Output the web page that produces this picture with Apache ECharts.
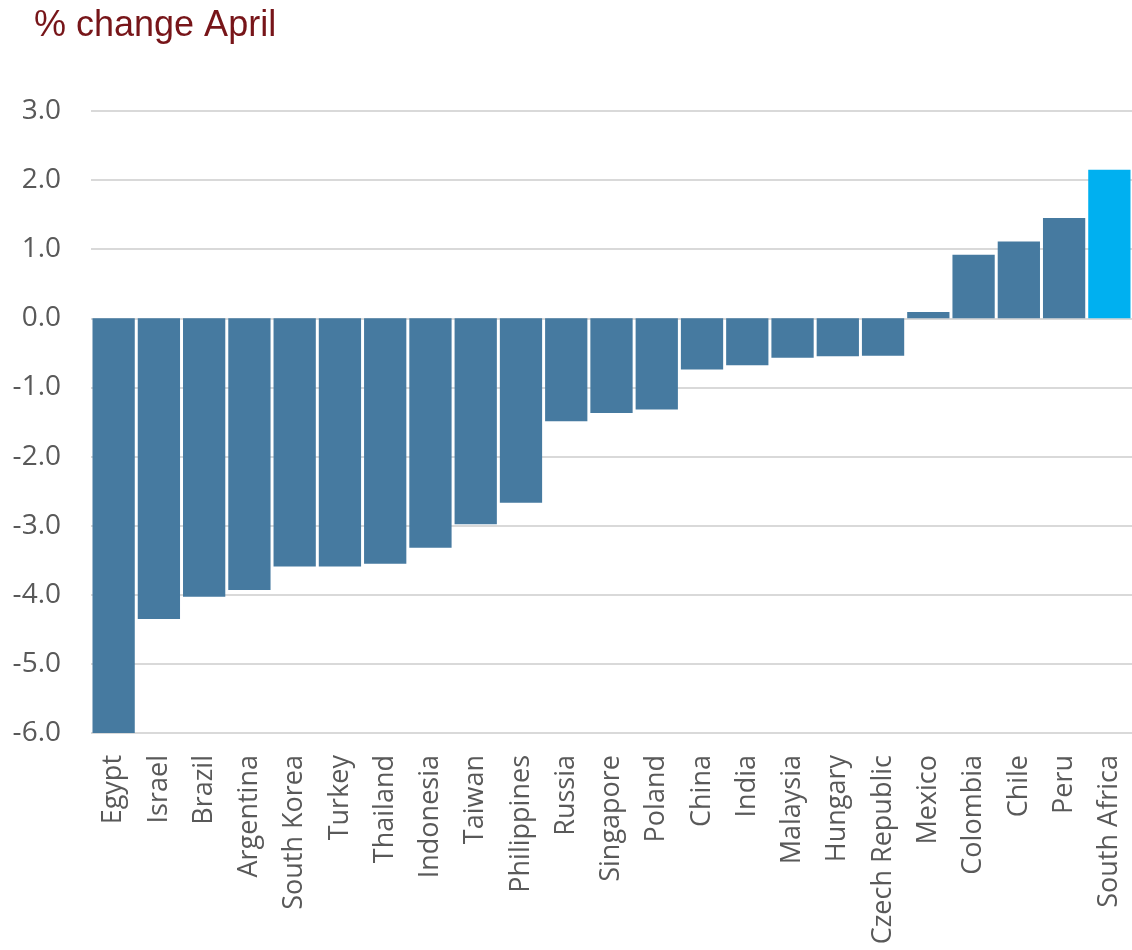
<!DOCTYPE html>
<html>
<head>
<meta charset="utf-8">
<title>% change April</title>
<script src="https://cdn.jsdelivr.net/npm/echarts@6/dist/echarts.min.js"></script>
<style>
  html, body { margin: 0; padding: 0; background: #ffffff; }
  #chart { width: 1132px; height: 950px; }
</style>
</head>
<body>
<div id="chart"></div>
<script>
// Countries, sorted from largest fall to largest rise
const countries = [
  'Egypt', 'Israel', 'Brazil', 'Argentina', 'South Korea', 'Turkey', 'Thailand',
  'Indonesia', 'Taiwan', 'Philippines', 'Russia', 'Singapore', 'Poland', 'China',
  'India', 'Malaysia', 'Hungary', 'Czech Republic', 'Mexico', 'Colombia', 'Chile',
  'Peru', 'South Africa'
];

// % change in April
const changes = [
  -6.03, -4.35, -4.03, -3.93, -3.59, -3.59, -3.55,
  -3.32, -2.98, -2.67, -1.49, -1.37, -1.32, -0.74,
  -0.68, -0.57, -0.55, -0.54, 0.09, 0.92, 1.11,
  1.45, 2.15
];

// Value axis ticks
const yTicks = [-6, -5, -4, -3, -2, -1, 0, 1, 2, 3];

const highlighted = 'South Africa';

const baseColor = '#467AA0';
const highlightColor = '#00B0F0';

const chart = echarts.init(document.getElementById('chart'));

chart.setOption({
  animation: false,
  backgroundColor: '#ffffff',
  title: {
    text: '% change April',
    left: 29,
    top: 3,
    textStyle: {
      fontFamily: 'Liberation Sans',
      fontWeight: 'normal',
      fontSize: 36,
      color: '#771519'
    }
  },
  grid: {
    left: 91,
    right: 0,
    top: 111,
    bottom: 217,
    containLabel: false
  },
  xAxis: {
    type: 'category',
    data: countries,
    axisLine: { show: false },
    axisTick: { show: false },
    axisLabel: {
      rotate: 90,
      interval: 0,
      margin: 22,
      fontFamily: 'Open Sans',
      fontSize: 27,
      color: '#595959'
    }
  },
  yAxis: {
    type: 'value',
    min: yTicks[0],
    max: yTicks[yTicks.length - 1],
    interval: 1,
    axisLine: { show: false },
    axisTick: { show: false },
    splitLine: { lineStyle: { color: '#D9D9D9', width: 2 } },
    axisLabel: {
      margin: 30,
      fontFamily: 'Open Sans',
      fontSize: 28,
      color: '#595959',
      formatter: v => v.toFixed(1)
    }
  },
  series: [{
    type: 'bar',
    barCategoryGap: '6.6%',
    data: changes.map((v, i) => ({
      value: v,
      itemStyle: { color: countries[i] === highlighted ? highlightColor : baseColor }
    }))
  }]
});
</script>
</body>
</html>
